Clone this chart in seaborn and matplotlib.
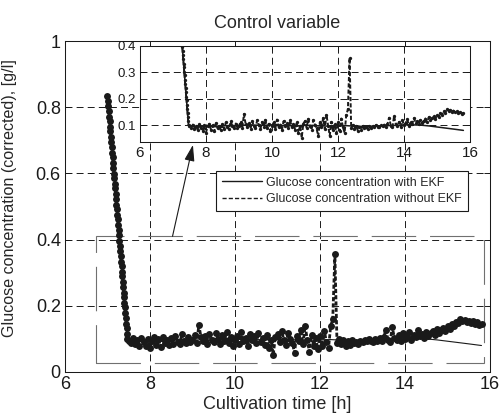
import numpy as np
import pandas as pd
import matplotlib
matplotlib.use("Agg")
import matplotlib.pyplot as plt
import seaborn as sns
from matplotlib.lines import Line2D
from matplotlib.patches import Rectangle

# --- data ---
# fast drop at the start (shared by both signals), one sample every 0.01 h
drop_time = np.linspace(7.00, 7.47, 48)
drop_glucose = [0.835, 0.820, 0.803, 0.789, 0.771, 0.758, 0.740, 0.727, 0.709, 0.695,
                0.680, 0.662, 0.649, 0.631, 0.617, 0.599, 0.586, 0.568, 0.555, 0.537,
                0.523, 0.506, 0.492, 0.474, 0.461, 0.443, 0.429, 0.414, 0.396, 0.382,
                0.365, 0.351, 0.333, 0.320, 0.302, 0.289, 0.271, 0.257, 0.240, 0.226,
                0.208, 0.195, 0.177, 0.163, 0.146, 0.132, 0.115, 0.101]

# glucose without EKF (noisy measurement), one sample every 0.05 h
noisy_time = np.linspace(7.50, 15.80, 167)
noisy_glucose = [
    0.095, 0.088, 0.102, 0.085, 0.098, 0.080, 0.104, 0.090, 0.078, 0.099,   # 7.50
    0.072, 0.095, 0.105, 0.083, 0.099, 0.076, 0.107, 0.088, 0.097, 0.081,   # 8.00
    0.103, 0.086, 0.110, 0.092, 0.084, 0.115, 0.095, 0.088, 0.106, 0.090,   # 8.50
    0.098, 0.112, 0.089, 0.142, 0.105, 0.093, 0.108, 0.086, 0.114, 0.097,   # 9.00
    0.090, 0.118, 0.101, 0.086, 0.112, 0.094, 0.120, 0.088, 0.105, 0.079,   # 9.50
    0.097, 0.110, 0.085, 0.121, 0.093, 0.102, 0.080, 0.115, 0.096, 0.108,   # 10.00
    0.089, 0.118, 0.092, 0.104, 0.083, 0.112, 0.071, 0.098, 0.052, 0.106,   # 10.50
    0.115, 0.090, 0.124, 0.096, 0.083, 0.119, 0.101, 0.088, 0.058, 0.110,   # 11.00
    0.093, 0.127, 0.085, 0.140, 0.098, 0.060, 0.112, 0.080, 0.104, 0.069,   # 11.50
    0.110, 0.078, 0.125, 0.092, 0.071, 0.138, 0.160, 0.355, 0.088, 0.100,   # 12.00
    0.086, 0.098, 0.079, 0.094, 0.083, 0.097, 0.088, 0.092, 0.085, 0.095,   # 12.50
    0.090, 0.097, 0.093, 0.100, 0.094, 0.091, 0.099, 0.095, 0.102, 0.094,   # 13.00
    0.105, 0.128, 0.098, 0.092, 0.135, 0.104, 0.097, 0.112, 0.094, 0.118,   # 13.50
    0.100, 0.108, 0.122, 0.097, 0.112, 0.105, 0.126, 0.109, 0.115, 0.103,   # 14.00
    0.120, 0.108, 0.117, 0.125, 0.112, 0.130, 0.119, 0.126, 0.133, 0.124,   # 14.50
    0.138, 0.131, 0.145, 0.139, 0.152, 0.147, 0.160, 0.154, 0.158, 0.151,   # 15.00
    0.155, 0.149, 0.153, 0.145, 0.150, 0.143, 0.146,                        # 15.50
]

# glucose with EKF (smooth estimate)
ekf_time = [7.50, 7.75, 8.00, 8.25, 8.50, 8.75, 9.00, 9.25, 9.50, 9.75,
            10.00, 10.25, 10.50, 10.75, 11.00, 11.25, 11.50, 11.75, 12.00, 12.25,
            12.50, 12.75, 13.00, 13.25, 13.50, 13.75, 14.00, 14.25, 14.50, 14.75,
            15.00, 15.25, 15.50, 15.80]
ekf_glucose = [0.097, 0.093, 0.095, 0.094, 0.097, 0.099, 0.098, 0.101, 0.100, 0.099,
               0.101, 0.099, 0.098, 0.097, 0.099, 0.098, 0.097, 0.096, 0.097, 0.098,
               0.096, 0.095, 0.096, 0.097, 0.098, 0.099, 0.101, 0.101, 0.100, 0.097,
               0.093, 0.089, 0.085, 0.080]

legend_labels = ["Glucose concentration with EKF", "Glucose concentration without EKF"]

df_with = pd.DataFrame({"t": np.concatenate([drop_time, ekf_time]),
                        "g": drop_glucose + ekf_glucose})
df_without = pd.DataFrame({"t": np.concatenate([drop_time, noisy_time]),
                           "g": drop_glucose + noisy_glucose})

# --- style ---
sns.set_theme(style="ticks")
plt.rcParams["font.family"] = ["Liberation Sans", "DejaVu Sans"]
plt.rcParams["lines.scale_dashes"] = False
plt.rcParams["axes.edgecolor"] = "k"
plt.rcParams["axes.linewidth"] = 0.75

grid_dash = (0, (5, 3))
data_dash = (0, (3, 1.5))

fig = plt.figure(figsize=(5.01, 4.18), dpi=100)
ax = fig.add_axes([65 / 501, 1 - 372 / 418, 425 / 501, 331 / 418])

# --- main axes ---
sns.lineplot(data=df_with, x="t", y="g", ax=ax, color="k", lw=0.8,
             estimator=None, sort=False, zorder=3)
sns.lineplot(data=df_without, x="t", y="g", ax=ax, color="k", lw=2.0,
             linestyle=data_dash, marker="o", markersize=5.0, markeredgewidth=0,
             estimator=None, sort=False, zorder=3)

ax.add_patch(Rectangle((6.73, 0.027), 9.13, 0.383, fill=False, edgecolor="#707070",
                       lw=0.8, linestyle=(0, (32, 10)), zorder=2))
ax.annotate("", xy=(9.01, 0.686), xytext=(8.53, 0.41),
            arrowprops=dict(arrowstyle="-|>,head_length=0.7,head_width=0.22",
                            color="k", lw=0.8, shrinkA=0, shrinkB=0,
                            mutation_scale=14))

ax.set_xlim(6, 16)
ax.set_ylim(0, 1)
ax.set_xticks([6, 8, 10, 12, 14, 16])
ax.set_yticks([0, 0.2, 0.4, 0.6, 0.8, 1])
ax.set_yticklabels(["0", "0.2", "0.4", "0.6", "0.8", "1"])
ax.grid(True, color="k", linestyle=grid_dash, linewidth=0.7)
ax.set_axisbelow(True)
ax.tick_params(direction="in", top=True, right=True, length=4, width=0.7,
               labelsize=13, pad=3, colors="k")
ax.set_title("Control variable", fontsize=13, pad=9)
ax.set_xlabel("Cultivation time [h]", fontsize=13, labelpad=2)
ax.set_ylabel("Glucose concentration (corrected), [g/l]", fontsize=11.6)
ax.yaxis.set_label_coords(-0.113, 0.527)

handles = [Line2D([], [], color="k", lw=1.0),
           Line2D([], [], color="k", lw=1.0, linestyle=data_dash)]
leg = ax.legend(handles, legend_labels, loc="upper left", bbox_to_anchor=(0.355, 0.607),
                borderaxespad=0, fontsize=9, handlelength=3.2, handletextpad=0.4,
                borderpad=0.45, labelspacing=0.35, fancybox=False, framealpha=1,
                edgecolor="k")
leg.get_frame().set_linewidth(0.8)

# --- inset ---
axi = fig.add_axes([140 / 501, 1 - 142 / 418, 330 / 501, 96 / 418])
axi.set_facecolor("white")
sns.lineplot(data=df_with, x="t", y="g", ax=axi, color="k", lw=1.1,
             estimator=None, sort=False)
sns.lineplot(data=df_without, x="t", y="g", ax=axi, color="k", lw=1.4,
             linestyle=data_dash, marker="o", markersize=2.4, markeredgewidth=0,
             estimator=None, sort=False)
axi.set_xlim(6, 16)
axi.set_ylim(0.036, 0.4)
axi.set_xticks([6, 8, 10, 12, 14, 16])
axi.set_yticks([0.1, 0.2, 0.3, 0.4])
axi.set_yticklabels(["0.1", "0.2", "0.3", "0.4"])
axi.grid(True, color="k", linestyle=grid_dash, linewidth=0.7)
axi.set_axisbelow(True)
axi.tick_params(direction="in", top=True, right=True, length=3, width=0.7,
                pad=3, colors="k")
axi.tick_params(axis="x", labelsize=11)
axi.tick_params(axis="y", labelsize=9.5)
axi.set_xlabel("")
axi.set_ylabel("")

fig.savefig("out.png", dpi=100)
